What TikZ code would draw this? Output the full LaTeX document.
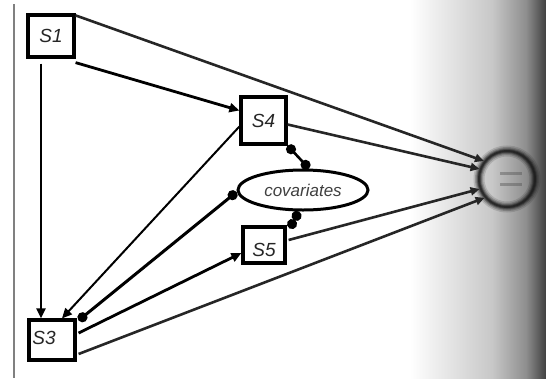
\documentclass[tikz,border=0pt]{standalone}
\usepackage{fontspec}
\setmainfont{Liberation Sans}
\usetikzlibrary{arrows.meta,shapes.geometric,calc}
\begin{document}
\begin{tikzpicture}[x=1pt,y=-1pt,
  box/.style={draw, line width=3.2pt, rectangle, inner sep=0pt, fill=white},
  lbl/.style={font=\fontsize{19}{19}\selectfont\itshape, text=black!85},
  arr/.style={line width=2.8pt, -{Triangle[length=10pt,width=9pt]}},
  thinarr/.style={line width=2pt, -{Triangle[length=10pt,width=9pt]}},
  cov/.style={line width=2.6pt, {Circle[length=10pt]}-{Circle[length=10pt]}},
  outarr/.style={line width=2.6pt, black!85, -{Triangle[length=9pt,width=8pt]}},
]
\useasboundingbox (0,0) rectangle (546,378);
\fill[white] (0,0) rectangle (546,378);
% scanner shading at right
\shade[left color=white, right color=black!22] (410,0) rectangle (493,378);
\shade[left color=black!22, right color=black!45] (492.5,0) rectangle (527,378);
\shade[left color=black!45, right color=black!75] (526.5,0) rectangle (546,378);
% page edge line at left
\draw[black!50, line width=1.2pt] (14,4) -- (14,378);

% nodes
\node[box, minimum width=46pt, minimum height=42pt, lbl] (s1) at (51,36) {S1};
\node[box, minimum width=45pt, minimum height=47pt, lbl] (s4) at (263.5,120.5) {S4};
\node[box, minimum width=42pt, minimum height=36pt] (s5) at (264,245) {};
\node[lbl] (t5) at (264,250) {S5};
\node[box, minimum width=46pt, minimum height=40pt] (s3) at (52,340) {};
\node[lbl] (t3) at (44,338) {S3};
\node[ellipse, draw, line width=3pt, fill=white, minimum width=130pt, minimum height=40pt, inner sep=0pt,
      font=\fontsize{17}{17}\selectfont\itshape, text=black!75] (cov) at (303,190) {covariates};
\node[circle, minimum size=58pt, inner sep=0pt] (out) at (507,179) {};

% blurred outcome circle
\foreach \w/\o in {11/0.15,8/0.22,5.5/0.3,3.5/0.45,1.8/0.6}
  \draw[black!90, line width=\w pt, opacity=\o] (out.center) circle (28pt);
\draw[black!70, line width=3pt, opacity=0.4] ($(out.center)+(-7,-6)$) -- ($(out.center)+(15,-6)$);
\draw[black!70, line width=3pt, opacity=0.4] ($(out.center)+(-7,5)$) -- ($(out.center)+(15,5)$);

% directed paths
\draw[arr] ($(s1.south)+(-10,5)$) -- ($(s3.north)+(-11,0)$);
\draw[arr] ($(s1.south east)+(0,4)$) -- ($(s4.west)+(0,-10)$);
\draw[thinarr] ($(s4.west)+(0,6)$) -- ($(s3.north)+(10,0)$);
\draw[arr] ($(s3.east)+(2,-7)$) -- ($(s5.west)+(0,8)$);

% paths to outcome
\draw[outarr] ($(s1.north east)+(0,2)$) -- (out.142);
\draw[outarr] ($(s4.east)+(0,4)$) -- (out.160);
\draw[outarr] ($(s5.east)+(2,-5)$) -- (out.200);
\draw[outarr] ($(s3.east)+(2,14)$) -- (out.220);

% covariate associations
\draw[cov] (s4.south east) -- ($(cov.north)+(6,0)$);
\draw[cov, line width=3pt] ($(s3.north east)+(2,2)$) -- ($(cov.west)+(0,2)$);
\draw[cov] ($(cov.south)+(-4,0)$) -- ($(s5.north east)+(3,3)$);
\end{tikzpicture}
\end{document}
